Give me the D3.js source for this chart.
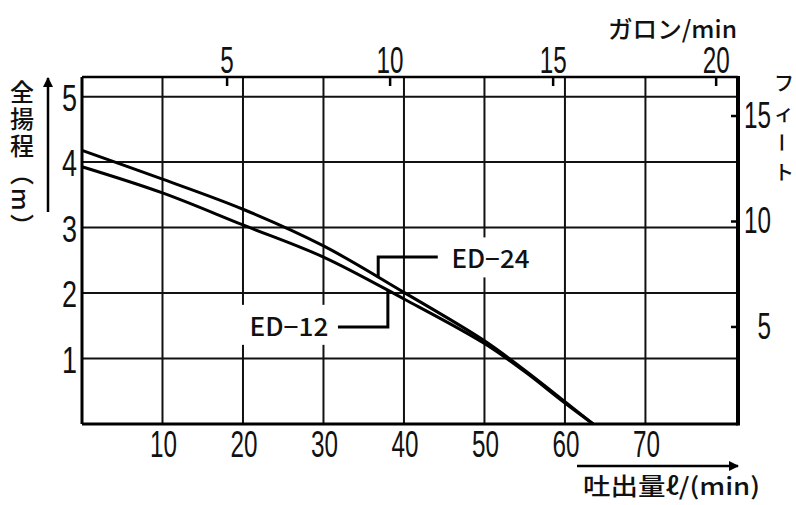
<!DOCTYPE html>
<html>
<head>
<meta charset="utf-8">
<script src="https://cdnjs.cloudflare.com/ajax/libs/d3/7.8.5/d3.min.js"></script>
<style>
  body { margin: 0; background: #fff; }
  svg { display: block; }
  .num { font-family: "Liberation Sans", Arial, sans-serif; font-size: 36px; fill: #111; }
  .jp { font-family: "Noto Sans CJK JP", sans-serif; fill: #111; font-weight: 500; }
</style>
</head>
<body>
<div class="svg-container"></div>
<script>
// flow in l/min, total head in m
const flowLpm = [0, 10, 20, 30, 40, 50, 55, 60, 63.5];
const headED24 = [4.18, 3.74, 3.28, 2.72, 2.01, 1.27, 0.82, 0.34, 0];
const headED12 = [3.93, 3.53, 3.04, 2.55, 1.91, 1.23, 0.80, 0.32, 0];
const seriesNames = ["ED−24", "ED−12"];

const flowTicks = [10, 20, 30, 40, 50, 60, 70];
const headTicks = [1, 2, 3, 4, 5];
const gallonTicks = [5, 10, 15, 20];
const feetTicks = [5, 10, 15];

let margin = { top: 77, right: 58, bottom: 81, left: 82 },
  width = 796 - margin.left - margin.right,
  height = 505 - margin.top - margin.bottom;

let svg = d3.select(".svg-container").append("svg")
  .attr("width", 796)
  .attr("height", 505);

let g = svg.append("g")
  .attr("transform", "translate(" + margin.left + "," + margin.top + ")");

// scales
let x = d3.scaleLinear().domain([0, 81.5]).range([0, width]);
let y = d3.scaleLinear().domain([0, 5.3]).range([height, 0]);
let xGal = d3.scaleLinear().domain([0.55, 20.67]).range([0, width]);
let yFt = d3.scaleLinear().domain([0.4, 16.85]).range([height, 0]);

// grid
g.selectAll(".vgrid")
  .data(flowTicks)
  .enter().append("line")
  .attr("x1", d => x(d)).attr("x2", d => x(d))
  .attr("y1", 0).attr("y2", height)
  .attr("stroke", "#111").attr("stroke-width", 2);

g.selectAll(".hgrid")
  .data(headTicks)
  .enter().append("line")
  .attr("x1", 0).attr("x2", width)
  .attr("y1", d => y(d)).attr("y2", d => y(d))
  .attr("stroke", "#111").attr("stroke-width", 2);

// curves
let line = d3.line()
  .x(d => x(d[0]))
  .y(d => y(d[1]))
  .curve(d3.curveCatmullRom.alpha(0.5));

[headED24, headED12].forEach(h => {
  g.append("path")
    .datum(flowLpm.map((f, i) => [f, h[i]]))
    .attr("fill", "none")
    .attr("stroke", "#000")
    .attr("stroke-width", 3)
    .attr("d", line);
});

// frame
g.append("line").attr("x1", 0).attr("x2", width).attr("y1", 0).attr("y2", 0)
  .attr("stroke", "#000").attr("stroke-width", 2.5);
g.append("line").attr("x1", 0).attr("x2", width).attr("y1", height).attr("y2", height)
  .attr("stroke", "#000").attr("stroke-width", 3);
g.append("line").attr("x1", 0).attr("x2", 0).attr("y1", 0).attr("y2", height)
  .attr("stroke", "#000").attr("stroke-width", 3);
g.append("line").attr("x1", width).attr("x2", width).attr("y1", -1).attr("y2", height + 1.5)
  .attr("stroke", "#000").attr("stroke-width", 4);

// top ticks (gallon) and right ticks (feet), pointing inward
g.selectAll(".gtick")
  .data(gallonTicks)
  .enter().append("line")
  .attr("x1", d => xGal(d)).attr("x2", d => xGal(d))
  .attr("y1", 0).attr("y2", 9)
  .attr("stroke", "#000").attr("stroke-width", 2.5);

g.selectAll(".ftick")
  .data(feetTicks)
  .enter().append("line")
  .attr("x1", width).attr("x2", width - 7)
  .attr("y1", d => yFt(d)).attr("y2", d => yFt(d))
  .attr("stroke", "#000").attr("stroke-width", 2.5);

// tick labels
g.selectAll(".xlab")
  .data(flowTicks)
  .enter().append("text")
  .attr("class", "num")
  .attr("x", d => x(d) + 1)
  .attr("y", height + 33)
  .attr("text-anchor", "middle")
  .attr("textLength", d => String(d).length * 13.5)
  .attr("lengthAdjust", "spacingAndGlyphs")
  .text(d => d);

g.selectAll(".ylab")
  .data(headTicks)
  .enter().append("text")
  .attr("class", "num")
  .attr("x", -5)
  .attr("y", d => y(d) + 14)
  .attr("text-anchor", "end")
  .attr("textLength", 15)
  .attr("lengthAdjust", "spacingAndGlyphs")
  .text(d => d);

g.selectAll(".glab")
  .data(gallonTicks)
  .enter().append("text")
  .attr("class", "num")
  .attr("x", d => xGal(d))
  .attr("y", -4)
  .attr("text-anchor", "middle")
  .attr("textLength", d => String(d).length * 13.5)
  .attr("lengthAdjust", "spacingAndGlyphs")
  .text(d => d);

g.selectAll(".flab")
  .data(feetTicks)
  .enter().append("text")
  .attr("class", "num")
  .attr("x", width + 33)
  .attr("y", d => yFt(d) + 12)
  .attr("text-anchor", "end")
  .attr("textLength", d => String(d).length * 13.5)
  .attr("lengthAdjust", "spacingAndGlyphs")
  .text(d => d);

// series labels with white boxes and leader lines
let ed24 = d3.scaleLinear().domain(flowLpm).range(headED24);
let ed12 = d3.scaleLinear().domain(flowLpm).range(headED12);

g.append("rect")
  .attr("x", x(44.3)).attr("y", y(2.85))
  .attr("width", 122).attr("height", 40)
  .attr("fill", "#fff");
g.append("rect")
  .attr("x", x(18)).attr("y", y(1.82))
  .attr("width", 112).attr("height", 40)
  .attr("fill", "#fff");

g.append("path")
  .attr("d", "M" + x(44.2) + "," + y(2.55) + "H" + x(36.8) + "V" + y(ed24(36.8)))
  .attr("fill", "none").attr("stroke", "#000").attr("stroke-width", 3);
g.append("path")
  .attr("d", "M" + x(31.8) + "," + y(1.48) + "H" + x(38) + "V" + y(ed12(38)))
  .attr("fill", "none").attr("stroke", "#000").attr("stroke-width", 3);

g.append("text")
  .attr("class", "jp")
  .attr("x", x(45.9)).attr("y", y(2.38))
  .attr("font-size", 25)
  .attr("textLength", 78)
  .attr("lengthAdjust", "spacingAndGlyphs")
  .text(seriesNames[0]);
g.append("text")
  .attr("class", "jp")
  .attr("x", x(20.8)).attr("y", y(1.34))
  .attr("font-size", 25)
  .attr("textLength", 79)
  .attr("lengthAdjust", "spacingAndGlyphs")
  .text(seriesNames[1]);

// axis titles
svg.append("text")
  .attr("class", "jp")
  .attr("x", 608).attr("y", 38)
  .attr("font-size", 24)
  .attr("textLength", 129)
  .attr("lengthAdjust", "spacingAndGlyphs")
  .text("ガロン/min");

svg.append("text")
  .attr("class", "jp")
  .attr("x", 583).attr("y", 495)
  .attr("font-size", 24)
  .attr("textLength", 177)
  .attr("lengthAdjust", "spacingAndGlyphs")
  .text("吐出量ℓ/(min)");

svg.append("text")
  .attr("class", "jp")
  .attr("x", 22).attr("y", 80)
  .attr("font-size", 24)
  .style("writing-mode", "vertical-rl")
  .style("letter-spacing", "3px")
  .text("全揚程（m）");

// right title stacked one glyph per line, the long vowel mark turned upright
svg.selectAll(".ftitle")
  .data(Array.from("フィート"))
  .enter().append("text")
  .attr("class", "jp")
  .attr("x", d => d === "ー" ? 782 : 784)
  .attr("y", (d, i) => 91 + i * 29.5)
  .attr("font-size", 20)
  .attr("text-anchor", "middle")
  .attr("transform", (d, i) => d === "ー" ? "rotate(-90,782," + (83.4 + i * 29.5) + ")" : null)
  .text(d => d);

// arrows
svg.append("defs").append("marker")
  .attr("id", "head")
  .attr("viewBox", "0 0 10 10")
  .attr("refX", 9).attr("refY", 5)
  .attr("markerWidth", 4).attr("markerHeight", 4)
  .attr("markerUnits", "strokeWidth")
  .attr("orient", "auto")
  .append("path")
  .attr("d", "M0,0L10,5L0,10Z")
  .attr("fill", "#000");

svg.append("line")
  .attr("x1", 48).attr("y1", 212).attr("x2", 48).attr("y2", 78)
  .attr("stroke", "#000").attr("stroke-width", 2.5)
  .attr("marker-end", "url(#head)");

svg.append("line")
  .attr("x1", 577).attr("y1", 466).attr("x2", 738).attr("y2", 466)
  .attr("stroke", "#000").attr("stroke-width", 2.5)
  .attr("marker-end", "url(#head)");
</script>
</body>
</html>
